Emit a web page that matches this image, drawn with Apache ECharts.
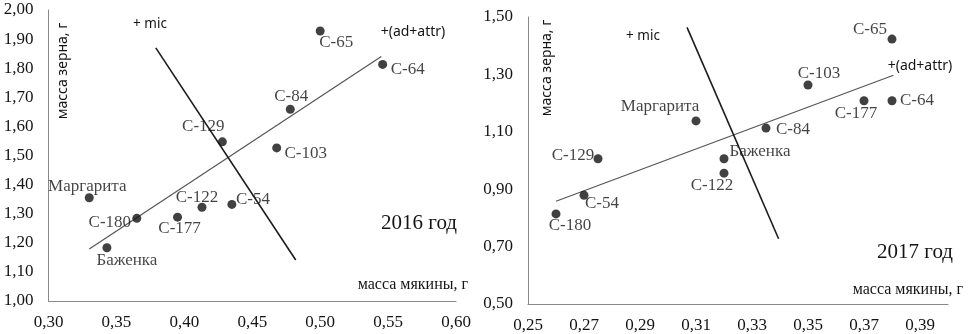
<!DOCTYPE html>
<html>
<head>
<meta charset="utf-8">
<script src="https://cdn.jsdelivr.net/npm/echarts@6/dist/echarts.min.js"></script>
<style>
  html, body { margin: 0; padding: 0; background: #fff; }
  #chart { width: 969px; height: 334px; }
</style>
</head>
<body>
<div id="chart"></div>
<script>
// 2016
const names2016 = ['Маргарита', 'С-180', 'Баженка', 'С-177', 'С-122', 'С-54', 'С-129', 'С-103', 'С-84', 'С-65', 'С-64'];
const chaff2016 = [0.330, 0.365, 0.343, 0.395, 0.413, 0.435, 0.428, 0.468, 0.478, 0.500, 0.546];
const grain2016 = [1.355, 1.284, 1.183, 1.288, 1.322, 1.332, 1.547, 1.526, 1.659, 1.928, 1.813];
const trend2016X = [0.330, 0.545];
const trend2016Y = [1.179, 1.840];
const mic2016X = [0.379, 0.482];
const mic2016Y = [1.870, 1.141];

// 2017
const names2017 = ['С-65', 'С-103', 'С-177', 'С-64', 'Маргарита', 'С-84', 'Баженка', 'С-122', 'С-129', 'С-54', 'С-180'];
const chaff2017 = [0.380, 0.350, 0.370, 0.380, 0.310, 0.335, 0.320, 0.320, 0.275, 0.270, 0.260];
const grain2017 = [1.423, 1.263, 1.208, 1.208, 1.138, 1.113, 1.006, 0.956, 1.006, 0.879, 0.814];
const trend2017X = [0.260, 0.3805];
const trend2017Y = [0.858, 1.297];
const mic2017X = [0.3068, 0.3395];
const mic2017Y = [1.464, 0.7275];

// label placement (offset from point, px)
const labelOff2016 = [[-2, -11], [-27, 4], [20, 13], [2, 11], [-5, -10], [21, -5], [-19, -15], [29, 6], [1, -13], [16, 12], [25, 5]];
const labelOff2017 = [[-22, -10], [11, -11], [-8, 13], [25, 0], [-36, -14], [27, 1], [36, -7], [-12, 12], [-25, -3], [18, 8], [14, 12]];

const serif = 'Liberation Serif';
const sans = 'Noto Sans';
const ink = '#141414';
const comma = (v, d) => v.toFixed(d).replace('.', ',');

const pts = (names, xs, ys, offs) => names.map((n, i) => ({
  name: n,
  value: [xs[i], ys[i]],
  label: { offset: offs[i] }
}));
const seg = (xs, ys) => xs.map((x, i) => [x, ys[i]]);

const axisLine = { show: true, lineStyle: { color: '#888', width: 1 } };
const labelStyle = { fontFamily: serif, fontSize: 17, color: ink };

const chart = echarts.init(document.getElementById('chart'));

const scatterBase = {
  type: 'scatter',
  symbolSize: 9,
  itemStyle: { color: '#111' },
  label: {
    show: true,
    position: 'inside',
    formatter: p => p.name,
    fontFamily: serif,
    fontSize: 17,
    color: ink
  },
  z: 5
};

chart.setOption({
  animation: false,
  grid: [
    { left: 48.5, top: 10, width: 407.5, height: 291 },
    { left: 528, top: 17, width: 420, height: 287 }
  ],
  xAxis: [
    {
      gridIndex: 0, type: 'value', min: 0.30, max: 0.60, interval: 0.05,
      axisLine, axisTick: { show: false }, splitLine: { show: false },
      axisLabel: Object.assign({ margin: 13, formatter: v => comma(v, 2) }, labelStyle)
    },
    {
      gridIndex: 1, type: 'value', min: 0.25, max: 0.40, interval: 0.02,
      axisLine, axisTick: { show: false }, splitLine: { show: false },
      axisLabel: Object.assign({ margin: 13, showMaxLabel: false, formatter: v => comma(v, 2) }, labelStyle)
    }
  ],
  yAxis: [
    {
      gridIndex: 0, type: 'value', min: 1.0, max: 2.0, interval: 0.1,
      axisLine, axisTick: { show: false }, splitLine: { show: false },
      axisLabel: Object.assign({ margin: 15, formatter: v => comma(v, 2) }, labelStyle)
    },
    {
      gridIndex: 1, type: 'value', min: 0.5, max: 1.5, interval: 0.2,
      axisLine, axisTick: { show: false }, splitLine: { show: false },
      axisLabel: Object.assign({ margin: 15, formatter: v => comma(v, 2) }, labelStyle)
    }
  ],
  series: [
    {
      type: 'line', xAxisIndex: 0, yAxisIndex: 0, data: seg(trend2016X, trend2016Y),
      symbol: 'none', lineStyle: { color: '#555', width: 1.2 }
    },
    {
      type: 'line', xAxisIndex: 0, yAxisIndex: 0, data: seg(mic2016X, mic2016Y),
      symbol: 'none', lineStyle: { color: '#1c1c1c', width: 1.6 }
    },
    Object.assign({}, scatterBase, { xAxisIndex: 0, yAxisIndex: 0, data: pts(names2016, chaff2016, grain2016, labelOff2016) }),
    {
      type: 'line', xAxisIndex: 1, yAxisIndex: 1, data: seg(trend2017X, trend2017Y),
      symbol: 'none', lineStyle: { color: '#555', width: 1.2 }
    },
    {
      type: 'line', xAxisIndex: 1, yAxisIndex: 1, data: seg(mic2017X, mic2017Y),
      symbol: 'none', lineStyle: { color: '#1c1c1c', width: 1.6 }
    },
    Object.assign({}, scatterBase, { xAxisIndex: 1, yAxisIndex: 1, data: pts(names2017, chaff2017, grain2017, labelOff2017) })
  ],
  graphic: [
    // 2016 panel
    { type: 'text', x: 63, y: 71, rotation: Math.PI / 2,
      style: { text: 'масса зерна, г', fontFamily: sans, fontSize: 14, fill: ink, align: 'center', verticalAlign: 'middle' } },
    { type: 'text', x: 468, y: 285,
      style: { text: 'масса мякины, г', fontFamily: serif, fontSize: 16, fill: ink, align: 'right', verticalAlign: 'middle' } },
    { type: 'text', x: 150, y: 24,
      style: { text: '+ mic', fontFamily: sans, fontSize: 13.5, fill: ink, align: 'center', verticalAlign: 'middle' } },
    { type: 'text', x: 413, y: 32,
      style: { text: '+(ad+attr)', fontFamily: sans, fontSize: 14, fill: ink, align: 'center', verticalAlign: 'middle' } },
    { type: 'text', x: 419, y: 223,
      style: { text: '2016 год', fontFamily: serif, fontSize: 21, fill: ink, align: 'center', verticalAlign: 'middle' } },
    // 2017 panel
    { type: 'text', x: 547, y: 68, rotation: Math.PI / 2,
      style: { text: 'масса зерна, г', fontFamily: sans, fontSize: 14, fill: ink, align: 'center', verticalAlign: 'middle' } },
    { type: 'text', x: 963, y: 290,
      style: { text: 'масса мякины, г', fontFamily: serif, fontSize: 16, fill: ink, align: 'right', verticalAlign: 'middle' } },
    { type: 'text', x: 643, y: 36,
      style: { text: '+ mic', fontFamily: sans, fontSize: 13.5, fill: ink, align: 'center', verticalAlign: 'middle' } },
    { type: 'text', x: 920, y: 66,
      style: { text: '+(ad+attr)', fontFamily: sans, fontSize: 14, fill: ink, align: 'center', verticalAlign: 'middle' } },
    { type: 'text', x: 915, y: 252,
      style: { text: '2017 год', fontFamily: serif, fontSize: 21, fill: ink, align: 'center', verticalAlign: 'middle' } }
  ]
});
</script>
</body>
</html>
